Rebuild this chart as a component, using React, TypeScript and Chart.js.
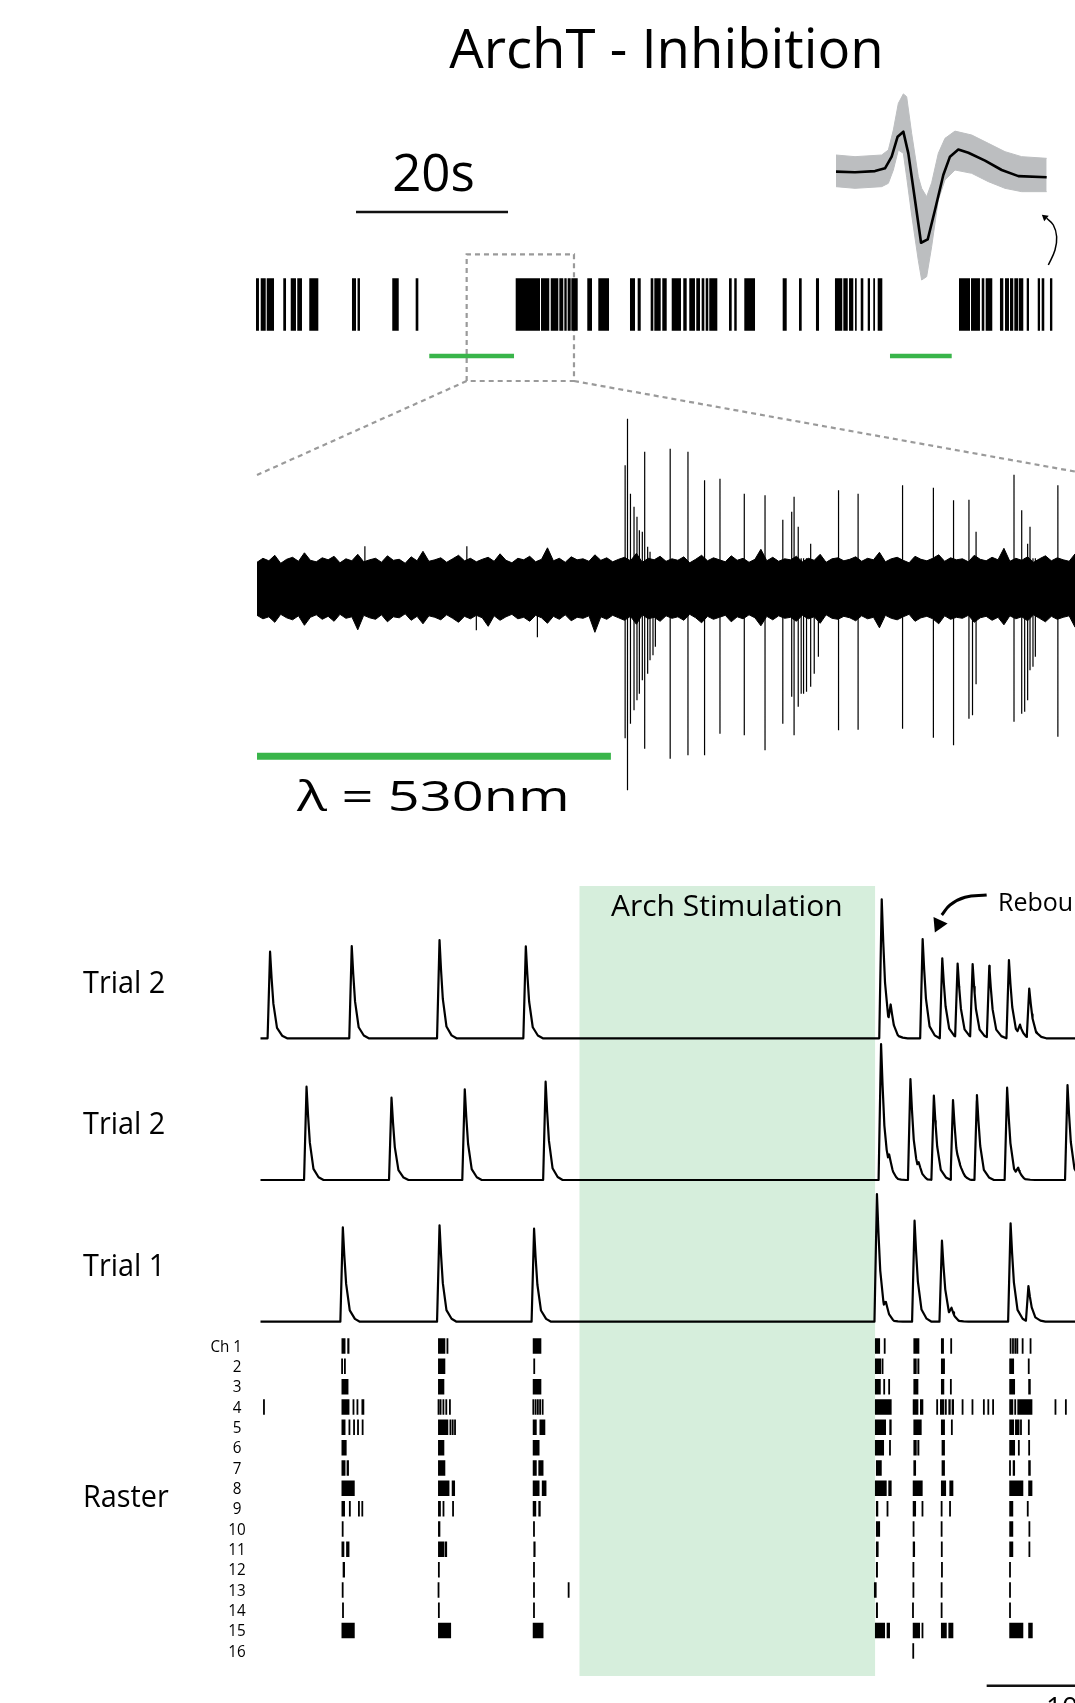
import React, { useEffect, useRef } from "react";
import { Chart, registerables } from "chart.js";

Chart.register(...registerables);

// ======================= DATA =======================
// Full-session unit raster: spike bursts [start, end] in seconds
const SESSION_SPIKES: [number, number][] = [
  [0.0, 0.39], [0.62, 1.28], [1.41, 2.37], [3.59, 3.95], [4.57, 5.26], [5.43, 6.05], [7.01, 8.2],
  [12.63, 13.16], [13.36, 13.68], [17.93, 18.78], [21.01, 21.36],
  [34.17, 37.37], [37.5, 38.59], [38.78, 39.78], [39.91, 40.43], [40.57, 40.88], [41.01, 41.41],
  [41.49, 42.33], [43.59, 44.21], [45.04, 46.45], [49.21, 49.87], [50.22, 50.62], [51.93, 52.28],
  [52.41, 53.25], [53.46, 54.04], [54.7, 55.92], [56.22, 56.67], [57.01, 57.76], [57.93, 58.42],
  [58.64, 58.99], [59.17, 59.51], [59.64, 60.7], [62.24, 62.59], [62.93, 63.25], [64.25, 65.66],
  [69.3, 69.83], [71.45, 71.8], [73.68, 74.08], [76.18, 77.14], [77.28, 77.86], [78.03, 78.59],
  [78.82, 79.04], [79.57, 79.91], [80.49, 80.79], [81.22, 81.45], [81.8, 82.41],
  [92.5, 93.95], [94.08, 95.26], [95.49, 95.83], [96.01, 96.88], [97.89, 98.33], [98.55, 99.08],
  [99.21, 99.64], [99.78, 100.3], [100.39, 100.96], [101.41, 101.71], [102.86, 103.16],
  [103.38, 103.72], [104.47, 104.78],
];
const SESSION_LIGHT: [number, number][] = [[22.8, 33.95], [83.42, 91.54]];
const ZOOM_WINDOW: [number, number] = [27.72, 41.84];
const SESSION_SCALE: [number, number] = [13.16, 20]; // start, length (s)

// Spike waveform (ms, µV)
const WF_MEAN_T = [0, 0.217, 0.445, 0.559, 0.635, 0.703, 0.768, 0.825, 0.901, 0.97, 1.046, 1.129, 1.224, 1.3, 1.395, 1.51, 1.7, 1.89, 2.08, 2.403];
const WF_MEAN_V = [0, -1, 1, 6, 27, 63, 72, 33, -51, -128, -122, -69, -6, 27, 40, 34, 20, 3, -8, -10];
const WF_BAND_T = [0, 0.217, 0.521, 0.597, 0.654, 0.711, 0.768, 0.806, 0.863, 0.939, 0.977, 1.034, 1.091, 1.167, 1.243, 1.357, 1.548, 1.738, 1.928, 2.118, 2.403];
const WF_BAND_HI = [30, 27, 30, 39, 75, 123, 140, 135, 69, -9, -30, -45, -20, 33, 60, 73, 66, 51, 36, 27, 24];
const WF_BAND_LO = [-27, -30, -27, -21, 3, 39, 33, -10, -78, -160, -195, -189, -135, -51, -15, 3, -3, -18, -30, -36, -36];
const WF_ARROW_T = [2.422, 2.498, 2.517, 2.479, 2.403];
const WF_ARROW_V = [-168, -141, -117, -96, -84];

// Zoomed extracellular trace (s, µV)
const NOISE_STEP = 0.1;
const NOISE_HI = [
  52, 60, 55, 66, 50, 58, 62, 54, 71, 56, 53, 61, 57, 64, 51, 59, 55, 68, 53, 57,
  60, 52, 65, 56, 58, 50, 63, 55, 74, 54, 57, 61, 52, 59, 66, 55, 60, 53, 58, 62,
  54, 69, 56, 51, 60, 57, 64, 53, 58, 81, 55, 60, 52, 63, 57, 59, 54, 67, 56, 61,
  53, 58, 62, 55, 70, 52, 60, 57, 64, 54, 59, 56, 63, 51, 58, 66, 55, 61, 57, 53,
  65, 56, 60, 52, 58, 78, 55, 62, 54, 59, 57, 64, 53, 60, 56, 68, 52, 59, 61, 55,
  58, 63, 54, 60, 57, 72, 53, 59, 62, 56, 51, 64, 58, 55, 60, 67, 54, 61, 57, 59,
  53, 66, 58, 55, 62, 57, 80, 54, 60, 56, 63, 52, 59, 65, 55, 61, 57, 54, 69, 58, 60, 56,
];
const NOISE_LO = [
  -54, -61, -57, -68, -52, -59, -63, -55, -74, -58, -53, -62, -56, -66, -52, -60, -57, -83, -54, -59,
  -62, -53, -67, -57, -59, -51, -64, -56, -71, -55, -58, -63, -53, -60, -68, -56, -61, -54, -59, -76,
  -55, -64, -57, -52, -61, -58, -66, -54, -59, -70, -56, -62, -53, -65, -58, -60, -55, -88, -57, -62,
  -54, -59, -64, -56, -72, -53, -61, -58, -66, -55, -60, -57, -64, -52, -59, -69, -56, -62, -58, -54,
  -67, -57, -61, -53, -59, -75, -56, -63, -55, -60, -58, -66, -54, -61, -57, -70, -53, -60, -62, -56,
  -59, -65, -55, -61, -58, -79, -54, -60, -63, -57, -52, -66, -59, -56, -61, -71, -55, -62, -58, -60,
  -54, -68, -59, -56, -64, -58, -73, -55, -61, -57, -65, -53, -60, -67, -56, -62, -58, -55, -78, -59, -61, -57,
];
const ZOOM_SPIKES: [number, number, number][] = [
  [1.82, 84, -40], [3.54, 84, -40], [3.7, 40, -84], [4.73, 40, -98],
  [6.21, 246, -300], [6.25, 339, -404], [6.3, 189, -271], [6.36, 163, -244], [6.41, 143, -224],
  [6.45, 116, -211], [6.5, 113, -184], [6.54, 273, -321], [6.59, 83, -171], [6.63, 73, -144],
  [6.68, 40, -134], [6.72, 40, -117], [6.97, 279, -341], [7.27, 273, -334], [7.55, 216, -334],
  [7.81, 219, -291], [8.22, 189, -294], [8.57, 186, -324], [8.87, 137, -271], [9.02, 153, -217],
  [9.06, 183, -294], [9.13, 123, -237], [9.18, 60, -211], [9.22, 60, -211], [9.27, 60, -207],
  [9.34, 89, -197], [9.4, 50, -171], [9.47, 50, -137], [9.81, 196, -284], [10.14, 189, -283],
  [10.89, 206, -281], [11.41, 201, -299], [11.75, 176, -314], [12.01, 177, -261], [12.07, 60, -254],
  [12.13, 113, -192], [12.77, 227, -267], [12.9, 156, -251], [12.95, 60, -247], [13.0, 89, -224],
  [13.04, 123, -164], [13.09, 60, -157], [13.13, 60, -137], [13.51, 206, -297],
];
const ZOOM_LIGHT: [number, number] = [0, 5.97];

// Trials (s, ΔF/F) and 16-channel raster
const STIM_WINDOW: [number, number] = [19.32, 37.26];
const KERNEL: [number, number][] = [[-0.15, 0], [0, 1], [0.09, 0.7], [0.2, 0.4], [0.42, 0.12], [0.73, 0.03], [1.03, 0]];
const TRIAL_LABELS = ["Trial 2", "Trial 2", "Trial 1"];
const TRIAL2A_PEAKS: [number, number][] = [[0.58, 0.866], [5.53, 0.923], [10.85, 0.983], [16.08, 0.92], [37.65, 1.39], [38.19, 0.22], [40.13, 0.993], [41.32, 0.8], [42.25, 0.74], [43.16, 0.733], [44.17, 0.723], [45.36, 0.783], [46.03, 0.1], [46.59, 0.49]];
const TRIAL2B_PEAKS: [number, number][] = [[2.79, 0.933], [7.94, 0.823], [12.38, 0.907], [17.28, 0.983], [37.61, 1.36], [38.1, 0.12], [39.39, 1.01], [39.89, 0.08], [40.81, 0.843], [41.97, 0.8], [42.38, 0.06], [43.42, 0.85], [45.25, 0.923], [45.92, 0.08], [48.91, 0.95]];
const TRIAL1_PEAKS: [number, number][] = [[4.99, 0.944], [10.85, 0.964], [16.58, 0.93], [37.36, 1.277], [37.9, 0.09], [39.64, 1.01], [41.3, 0.81], [41.88, 0.08], [45.46, 0.984], [46.54, 0.357]];
const REBOUND_ARROW_T = [44.01, 42.7, 41.79, 41.29];
const REBOUND_ARROW_V = [1.433, 1.41, 1.333, 1.233];
const REBOUND_HEAD: [number, number] = [41.1, 1.14];

const CHANNEL_LABELS = ["Ch 1", "2", "3", "4", "5", "6", "7", "8", "9", "10", "11", "12", "13", "14", "15", "16"];
const CH1: [number, number][] = [[4.91, 5.15], [5.26, 5.39], [10.76, 11.2], [11.28, 11.38], [16.5, 17.02], [37.24, 37.55], [37.79, 37.87], [39.57, 39.93], [41.24, 41.42], [41.83, 41.89], [45.42, 45.5], [45.57, 45.64], [45.71, 45.78], [45.85, 45.89], [46.17, 46.21], [46.62, 46.72]];
const CH2: [number, number][] = [[4.91, 4.98], [5.08, 5.15], [10.76, 11.2], [16.57, 16.61], [37.24, 37.61], [37.65, 37.75], [39.57, 39.77], [39.81, 39.93], [41.24, 41.48], [45.38, 45.67], [46.53, 46.59]];
const CH3: [number, number][] = [[4.91, 5.33], [10.76, 11.14], [16.5, 17.02], [37.24, 37.59], [37.75, 37.85], [38.05, 38.15], [39.57, 39.87], [41.24, 41.44], [41.79, 41.89], [45.38, 45.73], [46.53, 46.68]];
const CH4: [number, number][] = [[0.21, 0.21], [4.91, 5.39], [5.6, 5.67], [5.84, 5.91], [6.12, 6.29], [10.76, 10.82], [10.9, 10.93], [11.07, 11.1], [11.24, 11.28], [11.45, 11.51], [16.5, 16.57], [16.64, 16.71], [16.78, 16.84], [16.91, 16.98], [17.05, 17.15], [37.24, 38.25], [39.53, 39.87], [39.97, 40.17], [40.98, 41.04], [41.18, 41.44], [41.48, 41.59], [41.69, 41.83], [41.89, 42.03], [42.55, 42.55], [43.15, 43.15], [43.84, 43.84], [44.11, 44.11], [44.4, 44.4], [45.38, 45.62], [45.71, 45.77], [45.87, 46.78], [48.18, 48.18], [48.81, 48.81]];
const CH5: [number, number][] = [[4.91, 5.15], [5.37, 5.41], [5.65, 5.69], [5.89, 5.93], [6.17, 6.21], [10.76, 11.38], [11.49, 11.53], [11.63, 11.67], [11.77, 11.81], [16.5, 16.74], [16.91, 17.26], [37.24, 37.91], [38.11, 38.25], [39.57, 40.07], [41.24, 41.48], [41.85, 41.95], [45.38, 45.67], [45.73, 46.0], [46.05, 46.13], [46.53, 46.6]];
const CH6: [number, number][] = [[4.91, 5.22], [10.76, 11.14], [16.5, 16.91], [37.24, 37.79], [38.11, 38.19], [39.57, 39.77], [39.81, 39.93], [41.28, 41.48], [45.38, 45.73], [45.93, 45.99], [46.53, 46.64]];
const CH7: [number, number][] = [[4.91, 5.15], [5.22, 5.36], [10.76, 11.2], [16.5, 16.74], [16.84, 17.15], [37.3, 37.65], [39.57, 39.73], [41.28, 41.48], [45.38, 45.47], [45.59, 45.73], [46.53, 46.68]];
const CH8: [number, number][] = [[4.91, 5.71], [10.76, 11.45], [11.59, 11.79], [16.5, 16.91], [17.05, 17.33], [37.24, 37.95], [38.05, 38.25], [39.53, 40.13], [41.24, 41.55], [41.75, 41.99], [45.38, 46.23], [46.53, 46.78]];
const CH9: [number, number][] = [[4.91, 5.12], [5.36, 5.47], [5.91, 6.02], [6.12, 6.22], [10.76, 10.93], [11.04, 11.14], [11.62, 11.72], [16.5, 16.71], [16.84, 16.98], [37.3, 37.44], [37.95, 38.05], [39.53, 39.73], [40.07, 40.17], [41.24, 41.32], [41.75, 41.83], [45.38, 45.62], [46.47, 46.53]];
const CH10: [number, number][] = [[4.95, 5.01], [10.76, 10.9], [16.54, 16.61], [37.3, 37.55], [39.53, 39.63], [41.24, 41.32], [45.38, 45.62], [46.56, 46.64]];
const CH11: [number, number][] = [[4.91, 5.08], [5.19, 5.39], [10.76, 11.14], [11.17, 11.31], [16.54, 16.67], [37.3, 37.46], [39.53, 39.67], [41.24, 41.34], [45.38, 45.62], [46.56, 46.64]];
const CH12: [number, number][] = [[4.98, 5.12], [10.76, 10.86], [16.54, 16.61], [37.3, 37.42], [39.53, 39.61], [41.28, 41.32], [45.38, 45.47]];
const CH13: [number, number][] = [[4.95, 5.01], [10.76, 10.82], [16.54, 16.61], [18.64, 18.71], [37.18, 37.34], [39.53, 39.61], [41.24, 41.32], [45.38, 45.47]];
const CH14: [number, number][] = [[4.95, 5.05], [10.76, 10.86], [16.54, 16.61], [37.3, 37.42], [39.5, 39.59], [41.24, 41.32], [45.38, 45.47]];
const CH15: [number, number][] = [[4.91, 5.71], [10.76, 11.55], [16.5, 17.15], [37.24, 37.85], [37.95, 38.15], [39.53, 39.97], [40.07, 40.17], [41.24, 41.59], [41.69, 41.99], [45.38, 46.23], [46.53, 46.8]];
const CH16: [number, number][] = [[39.53, 39.59]];
const CHANNEL_SPIKES = [CH1, CH2, CH3, CH4, CH5, CH6, CH7, CH8, CH9, CH10, CH11, CH12, CH13, CH14, CH15, CH16];
const BOTTOM_SCALE: [number, number] = [44.01, 10]; // start, length (s)

// ======================= LAYOUT =======================
const W = 1075;
const H = 1703;
const L = {
  rX0: 256, rPPS: 7.6, rY: 304.5, rH: 52.4,
  rLightY: 356, rScaleY: 212, boxTop: 254.3, boxBottom: 381, connectY: 475,
  wfX0: 836, wfPPMs: 87.67, wfY0: 171.67, wfPPuV: 0.5556,
  zX0: 257, zPPS: 59.28, zY0: 588.3, zPPuV: 0.5, zLightY: 756.3,
  bX0: 260.5, bPPS: 16.5, trialY: [1038.3, 1180, 1321.7], trialPPU: 100,
  chY0: 1346, chStep: 20.33, chTick: 15.5,
  stimTop: 886, stimBottom: 1676, bScaleY: 1685.7,
};
const GREEN = "#39b54a";
const STIM_FILL = "#d6eedc";
const GRAY = "#bcbec0";
const DASH = "#9a9a9a";
const FONT = '"Open Sans", "Noto Sans", sans-serif';

// scale helpers: value v0 lands on pixel p0, ppu pixels per unit
const lx = (v0: number, p0: number, ppu: number) => ({ type: "linear", display: false, min: v0 - p0 / ppu, max: v0 + (W - p0) / ppu });
const ly = (v0: number, p0: number, ppu: number) => ({ type: "linear", display: false, min: v0 - (H - p0) / ppu, max: v0 + p0 / ppu });
const lyr = (v0: number, p0: number, ppu: number) => ({ type: "linear", display: false, reverse: true, min: v0 - p0 / ppu, max: v0 + (H - p0) / ppu });

const rY = (px: number) => (L.rY - px) / L.rH;
const rT = (px: number) => (px - L.rX0) / L.rPPS;
const chAt = (px: number) => 1 + (px - L.chY0) / L.chStep;

const hsegs = (iv: [number, number][], y: number, ppu: number, minPx: number) => {
  const out: any[] = [];
  iv.forEach(([a, b]) => {
    const pad = Math.max(0, (minPx - (b - a) * ppu) / 2) / ppu;
    out.push({ x: a - pad, y }, { x: b + pad, y }, { x: b + pad, y: null });
  });
  return out;
};
const vsegs = (list: [number, number, number][]) =>
  list.flatMap(([t, up, dn]) => [{ x: t, y: up }, { x: t, y: dn }, { x: t, y: null }]);
const xy = (xs: number[], ys: number[]) => xs.map((x, i) => ({ x, y: ys[i] }));

const kernelAt = (d: number) => {
  for (let i = 0; i < KERNEL.length - 1; i++) {
    const [t0, v0] = KERNEL[i];
    const [t1, v1] = KERNEL[i + 1];
    if (d >= t0 && d <= t1) return v0 + ((v1 - v0) * (d - t0)) / (t1 - t0);
  }
  return 0;
};
const traceFrom = (peaks: [number, number][], t0: number, t1: number) => {
  const set = new Set<number>([t0, t1]);
  peaks.forEach(([tp]) => KERNEL.forEach(([dt]) => set.add(+(tp + dt).toFixed(4))));
  const times = Array.from(set).sort((a, b) => a - b);
  return times.map((t) => ({ x: t, y: peaks.reduce((s, [tp, a]) => s + a * kernelAt(t - tp), 0) }));
};

const ds = (data: any[], xAxisID: string, yAxisID: string, color: string, width: number, extra: any = {}) => ({
  type: "line", data, xAxisID, yAxisID, borderColor: color, backgroundColor: color, borderWidth: width,
  pointRadius: 0, pointHoverRadius: 0, fill: false, tension: 0, spanGaps: false,
  borderCapStyle: "butt", borderJoinStyle: "miter", order: 0, ...extra,
});

function buildConfig(): any {
  const datasets: any[] = [];
  // ---- session raster ----
  datasets.push(ds(hsegs(SESSION_SPIKES, 0, L.rPPS, 1.5), "xR", "yR", "#000", L.rH));
  datasets.push(ds(hsegs(SESSION_LIGHT, rY(L.rLightY), L.rPPS, 0), "xR", "yR", GREEN, 4.5));
  datasets.push(ds(hsegs([[SESSION_SCALE[0], SESSION_SCALE[0] + SESSION_SCALE[1]]], rY(L.rScaleY), L.rPPS, 0), "xR", "yR", "#111", 2.5));
  const [w0, w1] = ZOOM_WINDOW;
  const bt = rY(L.boxTop), bb = rY(L.boxBottom);
  datasets.push(ds([{ x: w0, y: bb }, { x: w0, y: bt }, { x: w1, y: bt }, { x: w1, y: bb }, { x: w0, y: bb }], "xR", "yR", DASH, 2.2, { borderDash: [5, 4] }));
  const cy = rY(L.connectY);
  const zEnd = L.zX0 + (w1 - w0) * L.zPPS;
  datasets.push(ds([{ x: w0, y: bb }, { x: rT(L.zX0), y: cy }, { x: rT(L.zX0), y: null }, { x: w1, y: bb }, { x: rT(zEnd), y: cy }], "xR", "yR", DASH, 2.2, { borderDash: [5, 4] }));
  // ---- waveform inset ----
  datasets.push(ds(xy(WF_MEAN_T, WF_MEAN_V), "xW", "yW", "#000", 2.6, { borderJoinStyle: "round" }));
  datasets.push(ds(xy(WF_BAND_T, WF_BAND_HI), "xW", "yW", GRAY, 1, { fill: "+1", backgroundColor: GRAY, order: 5 }));
  datasets.push(ds(xy(WF_BAND_T, WF_BAND_LO), "xW", "yW", GRAY, 1, { order: 5 }));
  datasets.push(ds(xy(WF_ARROW_T, WF_ARROW_V), "xW", "yW", "#000", 1.5, { tension: 0.4 }));
  datasets.push(ds([{ x: WF_ARROW_T[WF_ARROW_T.length - 1] - 0.02, y: WF_ARROW_V[WF_ARROW_V.length - 1] + 2 }], "xW", "yW", "#000", 0, {
    showLine: false, pointRadius: 4, pointStyle: "triangle", pointRotation: -50, pointBackgroundColor: "#000", pointBorderWidth: 0,
  }));
  // ---- zoomed trace ----
  const nt = NOISE_HI.map((_, i) => +(i * NOISE_STEP).toFixed(2));
  datasets.push(ds(xy(nt, NOISE_HI), "xZ", "yZ", "#000", 1, { fill: "+1", backgroundColor: "#000" }));
  datasets.push(ds(xy(nt, NOISE_LO), "xZ", "yZ", "#000", 1));
  datasets.push(ds(vsegs(ZOOM_SPIKES), "xZ", "yZ", "#000", 1.2));
  datasets.push(ds(hsegs([ZOOM_LIGHT], (L.zY0 - L.zLightY) / L.zPPuV, L.zPPS, 0), "xZ", "yZ", GREEN, 7));
  // ---- trials ----
  const tEnd = (W - L.bX0) / L.bPPS + 2;
  [TRIAL2A_PEAKS, TRIAL2B_PEAKS, TRIAL1_PEAKS].forEach((pk, i) => {
    datasets.push(ds(traceFrom(pk, 0, tEnd), "xB", "yT" + i, "#000", 2.2, { borderJoinStyle: "round" }));
  });
  datasets.push(ds(xy(REBOUND_ARROW_T, REBOUND_ARROW_V), "xB", "yT0", "#000", 3, { tension: 0.4 }));
  datasets.push(ds([{ x: REBOUND_HEAD[0], y: REBOUND_HEAD[1] }], "xB", "yT0", "#000", 0, {
    showLine: false, pointRadius: 9, pointStyle: "triangle", pointRotation: 205, pointBackgroundColor: "#000", pointBorderWidth: 0,
  }));
  // ---- channel raster ----
  CHANNEL_SPIKES.forEach((iv, i) => {
    datasets.push(ds(hsegs(iv, i + 1, L.bPPS, 1.8), "xB", "yC", "#000", L.chTick));
  });
  datasets.push(ds(hsegs([[BOTTOM_SCALE[0], BOTTOM_SCALE[0] + BOTTOM_SCALE[1]]], chAt(L.bScaleY), L.bPPS, 0), "xB", "yC", "#111", 2.5));
  // ---- stimulation shading ----
  datasets.push(ds([{ x: STIM_WINDOW[0], y: chAt(L.stimTop) }, { x: STIM_WINDOW[1], y: chAt(L.stimTop) }], "xB", "yC", STIM_FILL, 0, {
    fill: { value: chAt(L.stimBottom) }, backgroundColor: STIM_FILL, order: 10,
  }));

  const scales: any = {
    x: { type: "linear", display: false },
    y: { type: "linear", display: false },
    xR: lx(0, L.rX0, L.rPPS),
    yR: ly(0, L.rY, L.rH),
    xW: lx(0, L.wfX0, L.wfPPMs),
    yW: ly(0, L.wfY0, L.wfPPuV),
    xZ: lx(0, L.zX0, L.zPPS),
    yZ: ly(0, L.zY0, L.zPPuV),
    xB: lx(0, L.bX0, L.bPPS),
    yT0: ly(0, L.trialY[0], L.trialPPU),
    yT1: ly(0, L.trialY[1], L.trialPPU),
    yT2: ly(0, L.trialY[2], L.trialPPU),
    yC: lyr(1, L.chY0, L.chStep),
  };
  return {
    type: "line",
    data: { datasets },
    options: {
      responsive: false,
      maintainAspectRatio: false,
      devicePixelRatio: 1,
      animation: false,
      events: [],
      layout: { padding: 0, autoPadding: false },
      plugins: { legend: { display: false }, tooltip: { enabled: false }, title: { display: false } },
      scales,
    },
  };
}

type LabelProps = { text: string; x: number; base: number; size: number; align?: "left" | "center" | "right"; sx?: number };
function Label({ text, x, base, size, align = "left", sx = 1 }: LabelProps) {
  const tx = align === "center" ? "translateX(-50%) " : align === "right" ? "translateX(-100%) " : "";
  const origin = align === "center" ? "50% 50%" : align === "right" ? "100% 50%" : "0% 50%";
  return (
    <div
      style={{
        position: "absolute", left: x, top: base - 0.888 * size, fontFamily: FONT, fontSize: size,
        lineHeight: 1, whiteSpace: "nowrap", color: "#000", transform: tx + `scaleX(${sx})`, transformOrigin: origin,
      }}
    >
      {text}
    </div>
  );
}

export default function App() {
  const ref = useRef<HTMLCanvasElement>(null);
  useEffect(() => {
    if (!ref.current) return;
    const chart = new Chart(ref.current, buildConfig());
    return () => chart.destroy();
  }, []);
  const labels: LabelProps[] = [
    { text: "ArchT - Inhibition", x: 666.5, base: 68.3, size: 54.5, align: "center" },
    { text: "20s", x: 433.5, base: 191.7, size: 51, align: "center" },
    { text: "λ = 530nm", x: 297, base: 811.7, size: 42, sx: 1.33 },
    { text: "Arch Stimulation", x: 726.8, base: 917, size: 30, align: "center" },
    { text: "Rebound", x: 998, base: 911, size: 25 },
    ...TRIAL_LABELS.map((t, i) => ({ text: t, x: 83.3, base: [994, 1135, 1276.7][i], size: 31, sx: 0.93 })),
    { text: "Raster", x: 82.5, base: 1507.5, size: 31, sx: 0.93 },
    ...CHANNEL_LABELS.map((t, i) =>
      i === 0
        ? { text: t, x: 241.5, base: L.chY0 + 6, size: 16, align: "right" as const, sx: 0.95 }
        : { text: t, x: 237, base: L.chY0 + i * L.chStep + 6, size: 16, align: "center" as const, sx: 0.95 }
    ),
    { text: "10s", x: 1046, base: 1716.7, size: 28 },
  ];
  return (
    <div style={{ position: "fixed", left: 0, top: 0, width: W, height: H, overflow: "hidden", background: "#fff" }}>
      <canvas ref={ref} width={W} height={H} style={{ position: "absolute", left: 0, top: 0, width: W, height: H }} />
      {labels.map((l, i) => (
        <Label key={i} {...l} />
      ))}
    </div>
  );
}
